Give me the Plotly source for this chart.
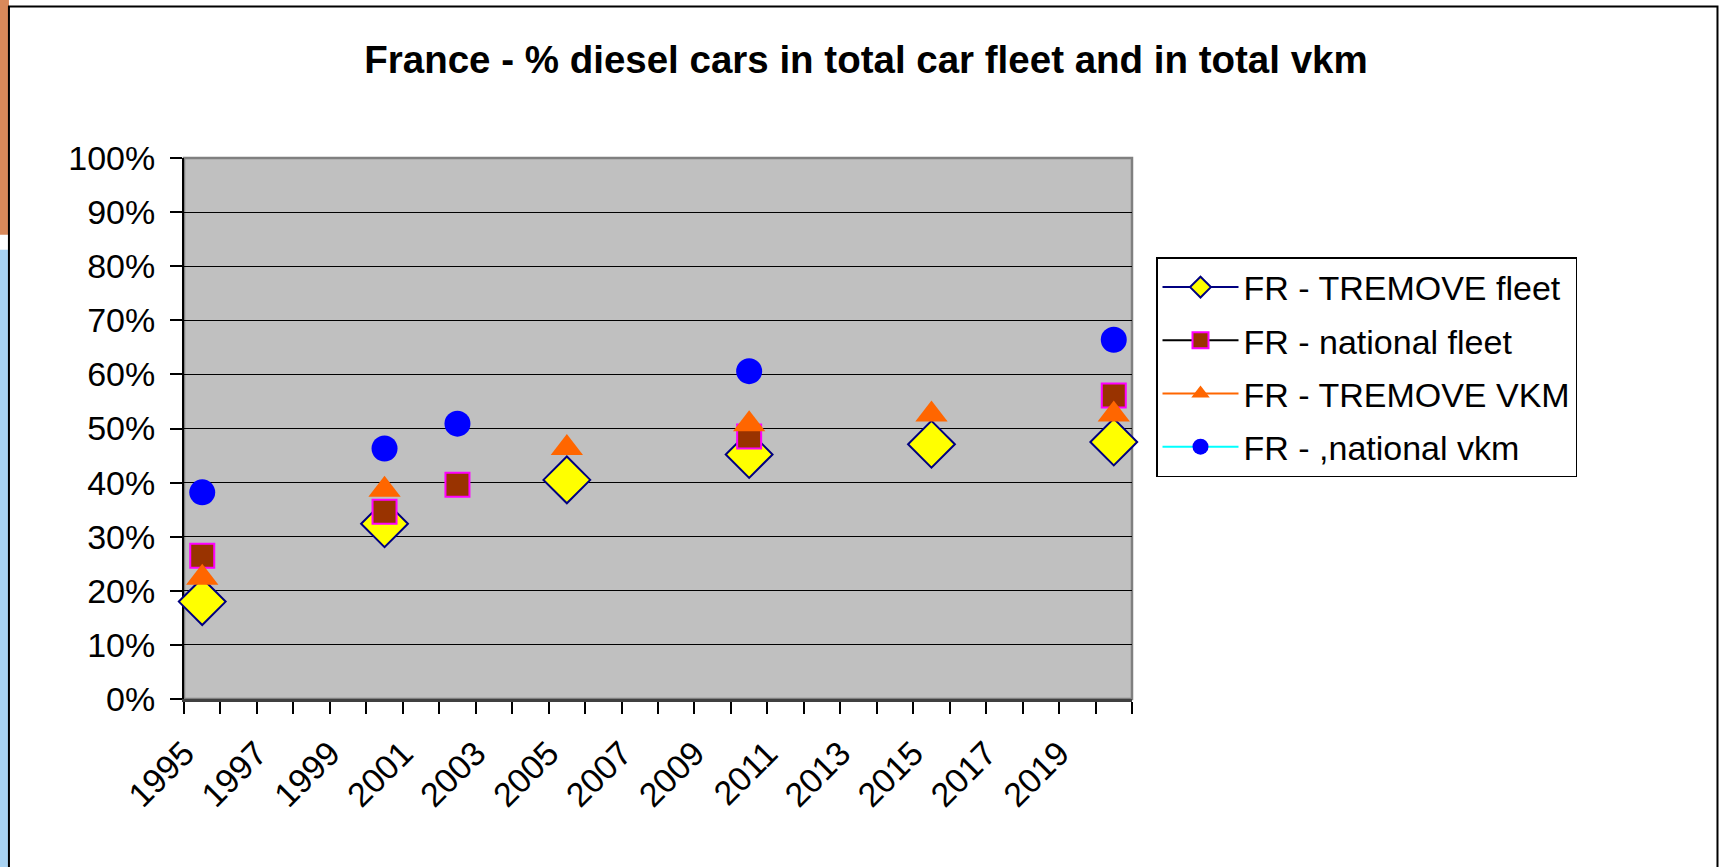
import plotly.graph_objects as go

# ---------------- data ----------------
years = list(range(1995, 2021))          # category axis (one slot per year)
tick_years = list(range(1995, 2020, 2))  # labelled years

tremove_fleet_years = [1995, 2000, 2005, 2010, 2015, 2020]
tremove_fleet = [0.180, 0.324, 0.405, 0.452, 0.471, 0.475]

national_fleet_years = [1995, 2000, 2002, 2010, 2020]
national_fleet = [0.265, 0.346, 0.396, 0.485, 0.561]

tremove_vkm_years = [1995, 2000, 2005, 2010, 2015, 2020]
tremove_vkm = [0.224, 0.387, 0.464, 0.508, 0.526, 0.526]

national_vkm_years = [1995, 2000, 2002, 2010, 2020]
national_vkm = [0.382, 0.463, 0.509, 0.606, 0.664]

series_names = ["FR - TREMOVE fleet", "FR - national fleet",
                "FR - TREMOVE VKM", "FR - ,national vkm"]

# ---------------- layout geometry (pixels) ----------------
W, H = 1727, 867
PL, PR, PT, PB = 184, 1131.7, 158.3, 698.8
FONT = "Liberation Sans, Arial, sans-serif"


def px_x(p):
    return (p - PL) / (PR - PL)


def px_y(p):
    return (PB - p) / (PB - PT)


def full(ys, vals):
    lookup = dict(zip(ys, vals))
    return [lookup.get(y) for y in years]


fig = go.Figure()

styles = [
    dict(line=dict(color="#000080", width=2),
         marker=dict(symbol="diamond", size=36, color="#FFFF00",
                     line=dict(color="#000080", width=2))),
    dict(line=dict(color="#000000", width=2),
         marker=dict(symbol="square", size=24, color="#993300",
                     line=dict(color="#FF00FF", width=2))),
    dict(line=dict(color="#FF6600", width=2),
         marker=dict(symbol="triangle-up", size=28, color="#FF6600",
                     line=dict(width=0))),
    dict(line=dict(color="#00FFFF", width=2),
         marker=dict(symbol="circle", size=26, color="#0000FF",
                     line=dict(width=0))),
]
data = [(tremove_fleet_years, tremove_fleet),
        (national_fleet_years, national_fleet),
        (tremove_vkm_years, tremove_vkm),
        (national_vkm_years, national_vkm)]

for i, ((ys, vals), name, st) in enumerate(zip(data, series_names, styles)):
    fig.add_trace(go.Scatter(
        x=years, y=full(ys, vals), name=name, mode="lines+markers",
        connectgaps=False, cliponaxis=False, legendgroup=f"g{i}",
        line=st["line"], marker=st["marker"],
    ))

shapes = [
    # slide decoration at far left
    dict(type="rect", xref="paper", yref="paper",
         x0=px_x(0), x1=px_x(9), y0=px_y(0), y1=px_y(235),
         fillcolor="#D9895A", line=dict(width=0), layer="below"),
    dict(type="rect", xref="paper", yref="paper",
         x0=px_x(0), x1=px_x(9), y0=px_y(250), y1=px_y(867),
         fillcolor="#A9D3F2", line=dict(width=0), layer="below"),
    # chart outer border
    dict(type="rect", xref="paper", yref="paper",
         x0=px_x(9), x1=px_x(1717), y0=px_y(7), y1=px_y(885),
         line=dict(color="#000000", width=2), fillcolor="rgba(0,0,0,0)",
         layer="below"),
    # plot area border (top/right gray)
    dict(type="rect", xref="x domain", yref="y domain",
         x0=0, x1=1, y0=0, y1=1,
         line=dict(color="#808080", width=2.5), layer="below"),
]

fig.update_layout(
    width=W, height=H,
    margin=dict(l=PL, r=W - PR, t=PT, b=H - PB, pad=0),
    paper_bgcolor="#FFFFFF",
    plot_bgcolor="#C0C0C0",
    font=dict(family=FONT, size=34, color="#000000"),
    title=dict(text="<b>France - % diesel cars in total car fleet and in total vkm</b>",
               font=dict(family=FONT, size=38.5, color="#000000"),
               x=866 / W, xanchor="center", xref="container",
               y=1 - 60 / H, yanchor="middle", yref="container"),
    showlegend=True,
    legend=dict(xref="container", yref="container",
                x=1156 / W, xanchor="left", y=1 - 257 / H, yanchor="top",
                bgcolor="#FFFFFF", bordercolor="#000000", borderwidth=1.5,
                font=dict(family=FONT, size=34, color="#000000"),
                traceorder="grouped", tracegroupgap=6, itemwidth=76),
    shapes=shapes,
    xaxis=dict(range=[1994.5, 2020.5], tickmode="array", tickvals=tick_years,
               ticktext=[str(y) for y in tick_years], tickangle=-45,
               ticks="", showgrid=False, zeroline=False,
               ticklabelstandoff=18, ticklabelshift=-18,
               showline=True, linecolor="#404040", linewidth=2.5,
               layer="below traces",
               minor=dict(tick0=1994.5, dtick=1, ticks="outside", ticklen=12,
                          tickcolor="#000000", tickwidth=1.5, showgrid=False),
               fixedrange=True),
    yaxis=dict(range=[0, 1], dtick=0.1, tickformat=".0%",
               ticks="outside", ticklen=12, tickcolor="#000000", tickwidth=1.5,
               ticklabelstandoff=8,
               showgrid=True, gridcolor="#000000", gridwidth=1.2,
               zeroline=False, showline=True, linecolor="#000000", linewidth=2,
               layer="below traces", fixedrange=True),
)

fig.write_html("out.html", config={"displayModeBar": False},
               post_script="document.body.style.margin='0';document.body.style.overflow='hidden';")
